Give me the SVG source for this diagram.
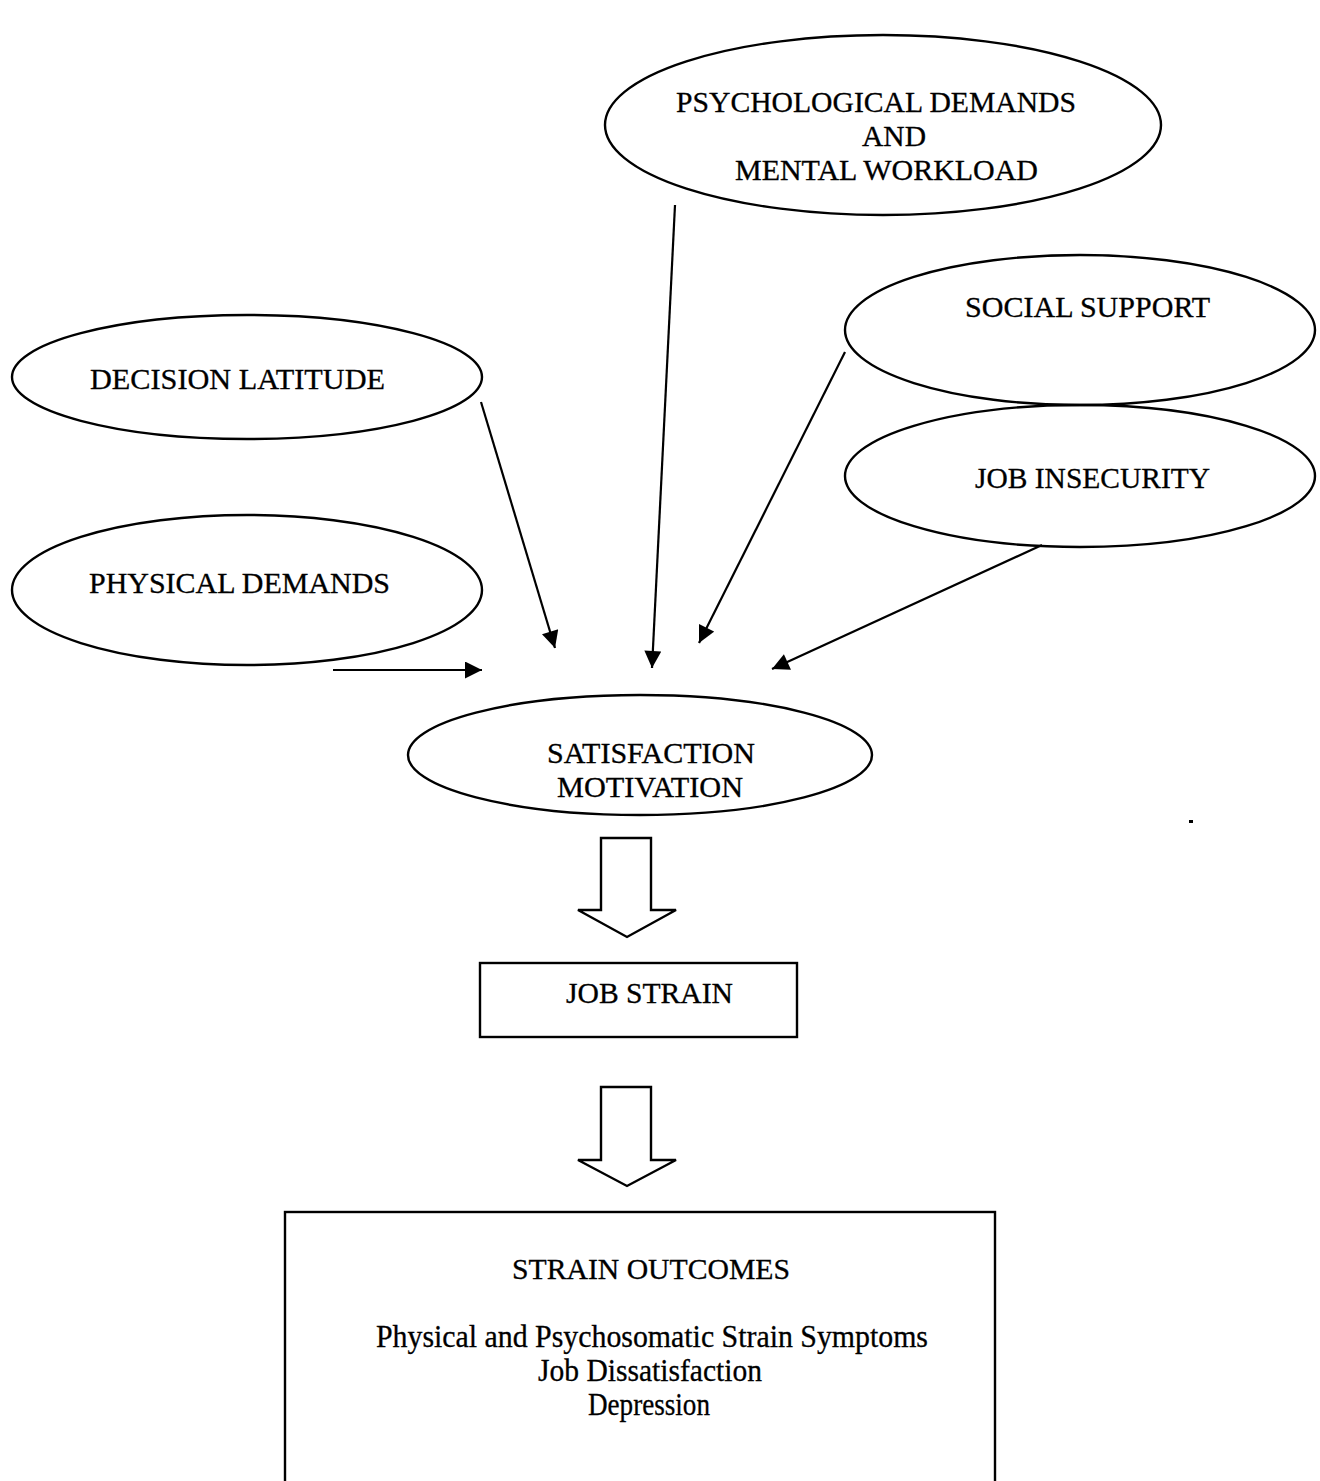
<svg xmlns="http://www.w3.org/2000/svg" width="1320" height="1481" viewBox="0 0 1320 1481">
<style>
.shape{fill:none;stroke:#000;stroke-width:2.4}
.conn{fill:none;stroke:#000;stroke-width:2.2}
text{font-family:"Liberation Serif","Times New Roman",serif;font-size:30px;fill:#000;stroke:#000;stroke-width:0.3}
.low{font-size:31px}
</style>
<defs>
<marker id="ah" viewBox="0 0 10 10" refX="10" refY="5" markerWidth="19" markerHeight="17" markerUnits="userSpaceOnUse" orient="auto">
<path d="M0,0 L10,5 L0,10 z" fill="#000"/>
</marker>
</defs>
<rect width="1320" height="1481" fill="#fff"/>
<g id="psych">
<ellipse class="shape" cx="883" cy="125" rx="278" ry="90"/>
<text x="676" y="112" textLength="400" lengthAdjust="spacingAndGlyphs">PSYCHOLOGICAL DEMANDS</text>
<text x="862" y="146" textLength="64" lengthAdjust="spacingAndGlyphs">AND</text>
<text x="735" y="180" textLength="303" lengthAdjust="spacingAndGlyphs">MENTAL WORKLOAD</text>
</g>
<g id="decision">
<ellipse class="shape" cx="247" cy="377" rx="235" ry="62"/>
<text x="90" y="389" textLength="295" lengthAdjust="spacingAndGlyphs">DECISION LATITUDE</text>
</g>
<g id="physical">
<ellipse class="shape" cx="247" cy="590" rx="235" ry="75"/>
<text x="89" y="593" textLength="301" lengthAdjust="spacingAndGlyphs">PHYSICAL DEMANDS</text>
</g>
<g id="social">
<ellipse class="shape" cx="1080" cy="330" rx="235" ry="75"/>
<text x="965" y="317" textLength="245" lengthAdjust="spacingAndGlyphs">SOCIAL SUPPORT</text>
</g>
<g id="insecurity">
<ellipse class="shape" cx="1080" cy="476" rx="235" ry="71"/>
<text x="975" y="488" textLength="235" lengthAdjust="spacingAndGlyphs">JOB INSECURITY</text>
</g>
<g id="satisfaction">
<ellipse class="shape" cx="640" cy="755" rx="232" ry="60"/>
<text x="547" y="763" textLength="208" lengthAdjust="spacingAndGlyphs">SATISFACTION</text>
<text x="557" y="797" textLength="186" lengthAdjust="spacingAndGlyphs">MOTIVATION</text>
</g>
<g id="jobstrain">
<rect class="shape" x="480" y="963" width="317" height="74"/>
<text x="566" y="1003" textLength="167" lengthAdjust="spacingAndGlyphs">JOB STRAIN</text>
</g>
<g id="outcomes">
<rect class="shape" x="285" y="1212" width="710" height="290"/>
<text x="512" y="1279" textLength="278" lengthAdjust="spacingAndGlyphs">STRAIN OUTCOMES</text>
<text class="low" x="376" y="1347" textLength="552" lengthAdjust="spacingAndGlyphs">Physical and Psychosomatic Strain Symptoms</text>
<text class="low" x="538" y="1381" textLength="224" lengthAdjust="spacingAndGlyphs">Job Dissatisfaction</text>
<text class="low" x="588" y="1415" textLength="122" lengthAdjust="spacingAndGlyphs">Depression</text>
</g>
<g id="connectors">
<line class="conn" x1="333" y1="670" x2="482" y2="670" marker-end="url(#ah)"/>
<line class="conn" x1="481" y1="402" x2="555" y2="648" marker-end="url(#ah)"/>
<line class="conn" x1="675" y1="205" x2="652" y2="668" marker-end="url(#ah)"/>
<line class="conn" x1="845" y1="352" x2="699" y2="643" marker-end="url(#ah)"/>
<line class="conn" x1="1042" y1="545" x2="772" y2="669" marker-end="url(#ah)"/>
<path class="shape" d="M601,838 L651,838 L651,910 L676,910 L627,937 L578,910 L601,910 Z"/>
<path class="shape" d="M601,1087 L651,1087 L651,1160 L676,1160 L627,1186 L578,1160 L601,1160 Z"/>
</g>
<rect x="1189" y="820" width="4" height="3" fill="#000"/>
</svg>
